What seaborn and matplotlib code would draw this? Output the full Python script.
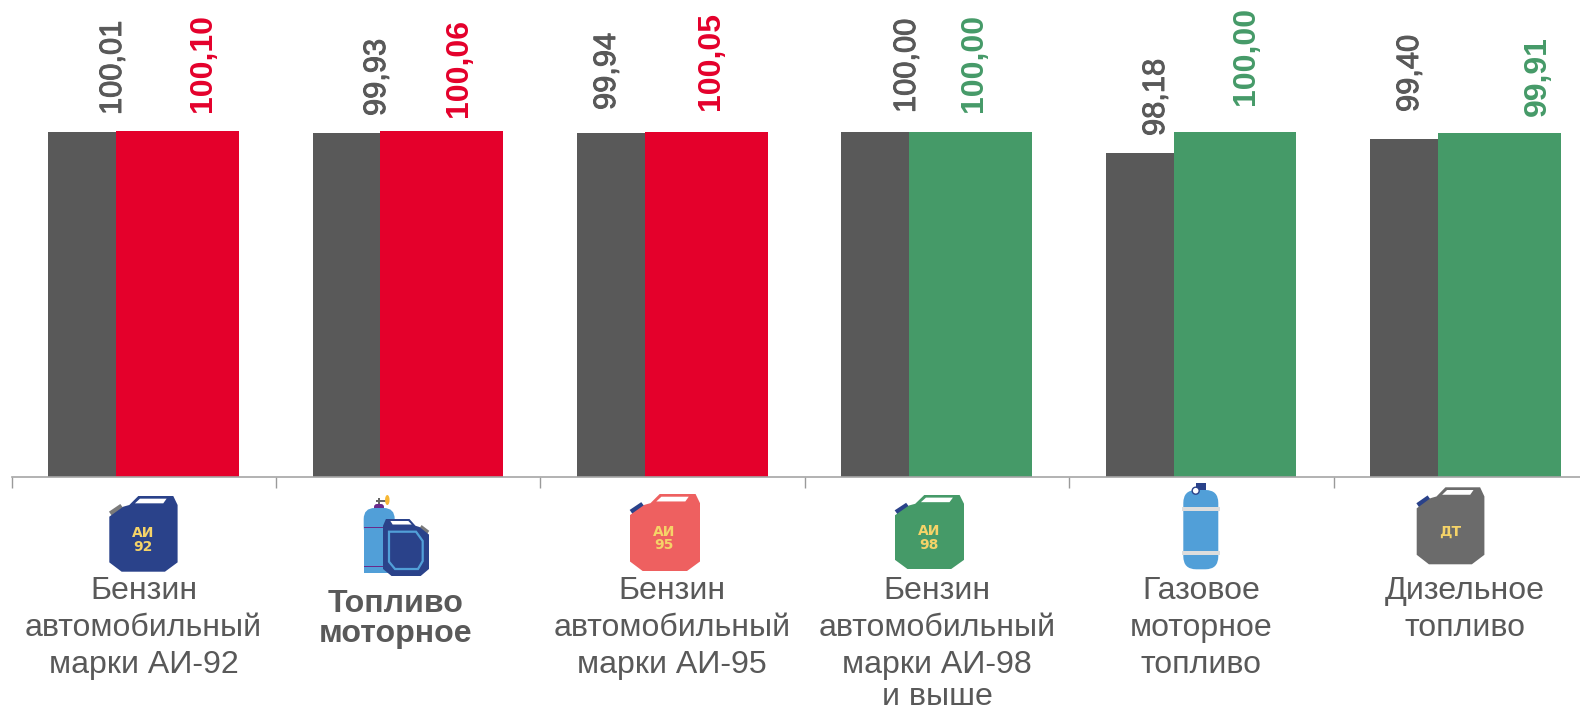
import matplotlib
matplotlib.use("Agg")
import matplotlib.patheffects as pe
import matplotlib.pyplot as plt
import numpy as np
import pandas as pd
import seaborn as sns
from matplotlib.patches import Circle, Ellipse, FancyBboxPatch, Polygon, Rectangle

# Data
categories = ["Бензин\nавтомобильный\nмарки АИ-92", "Топливо\nмоторное",
              "Бензин\nавтомобильный\nмарки АИ-95", "Бензин\nавтомобильный\nмарки АИ-98\nи выше",
              "Газовое\nмоторное\nтопливо", "Дизельное\nтопливо"]
prev_values = [100.01, 99.93, 99.94, 100.00, 98.18, 99.40]
curr_values = [100.10, 100.06, 100.05, 100.00, 100.00, 99.91]
curr_group = ["up", "up", "up", "flat", "flat", "flat"]

DARK = "#595959"
RED = "#E4002B"
GREEN = "#459A68"
NAVY = "#2A428A"
YELLOW = "#F5D368"
BLUE = "#519FD8"
W, H = 1580, 712

# Layout in pixels
prev_label_x = [113, 377, 607, 907, 1156, 1410]
prev_label_y = [115, 116, 110, 113, 136, 112]
curr_label_x = [203, 459, 711, 974, 1246, 1538]
curr_label_y = [112, 117, 110, 112, 105, 116]
cat_x = [143.5, 396, 672, 937, 1201, 1465]
cat_baseline = [599, 612.5, 599, 599, 599, 599]

sns.set_theme(style="white")
plt.rcParams["font.family"] = ["Liberation Sans", "DejaVu Sans"]

fig = plt.figure(figsize=(W / 100, H / 100), dpi=100)
spacing = 264.4
ax = fig.add_axes([11.6 / W, (H - 476.5) / H, 6 * spacing / W, 345.5 / H])

pos = np.arange(len(categories))
df_prev = pd.DataFrame({"x": pos - 0.2325, "y": prev_values})
df_curr = pd.DataFrame({"x": pos + 0.127, "y": curr_values, "group": curr_group})
# dark bars run slightly under the coloured ones so no white slit shows
sns.barplot(data=df_prev, x="x", y="y", native_scale=True, width=0.258, color=DARK,
            saturation=1, linewidth=0, ax=ax)
sns.barplot(data=df_curr, x="x", y="y", hue="group", native_scale=True, width=0.465,
            palette={"up": RED, "flat": GREEN}, saturation=1, dodge=False, legend=False,
            linewidth=0, ax=ax)

ax.set_xlim(-0.5, 5.5)
ax.set_ylim(70.4, 100.1)
ax.set_xlabel("")
ax.set_ylabel("")
ax.set_yticks([])
ax.set_xticks(np.arange(-0.5, 5.5, 1))
ax.set_xticklabels([])
ax.tick_params(axis="x", bottom=True, length=8, width=1, color="#9a9a9a")
sns.despine(ax=ax, left=True)
ax.spines["bottom"].set_color("#a6a6a6")
ax.spines["bottom"].set_linewidth(1.2)

# Overlay in pixel coordinates for labels and icons
ov = fig.add_axes([0, 0, 1, 1])
ov.set_xlim(0, W)
ov.set_ylim(H, 0)
ov.axis("off")
ov.patch.set_alpha(0)

for i in range(len(categories)):
    ov.text(prev_label_x[i], prev_label_y[i], f"{prev_values[i]:.2f}".replace(".", ","),
            rotation=90, ha="center", va="bottom", fontsize=22.2, color=DARK,
            path_effects=[pe.withStroke(linewidth=0.7, foreground=DARK)])
    ov.text(curr_label_x[i], curr_label_y[i], f"{curr_values[i]:.2f}".replace(".", ","),
            rotation=90, ha="center", va="bottom", fontsize=23, fontweight="bold",
            color=RED if curr_group[i] == "up" else GREEN)
    bold = i == 1
    step = 29.5 if bold else 37.2
    for j, line in enumerate(categories[i].split("\n")):
        # the last line of the longest label has to stay inside the canvas
        baseline = min(cat_baseline[i] + j * step, 705)
        ov.text(cat_x[i], baseline, line, ha="center", va="baseline",
                fontsize=23.1, color=DARK, fontweight="bold" if bold else "normal")

BODY = [(0, 62), (42, 32), (60, 27), (87, 0), (192, 0), (205, 27), (205, 199),
        (167, 227), (37, 227), (0, 199)]
HOLE = [(77, 22), (92, 8), (172, 8), (162, 22)]
SPOUT = [(-1, 47), (33, 24), (42, 36), (8, 60)]


def canister(left, top, width, height, color, spout, flip=False, text=None, z=3):
    def tr(points):
        out = []
        for px, py in points:
            if flip:
                px = 205 - px
            out.append((left + px * width / 205, top + py * height / 227))
        return out
    ov.add_patch(Polygon(tr(SPOUT), color=spout, lw=0, zorder=z))
    ov.add_patch(Polygon(tr(BODY), color=color, lw=0, zorder=z))
    ov.add_patch(Polygon(tr(HOLE), color="white", lw=0, zorder=z))
    if text:
        ov.text(left + width * 0.49, top + height * 0.58, text, ha="center", va="center",
                fontsize=10, color=YELLOW, fontweight="bold", family="DejaVu Sans",
                linespacing=0.95, zorder=z)


canister(109.3, 496, 68.3, 75.7, NAVY, "#7a7a7a", text="АИ\n92")
canister(630, 494, 70, 77, "#EE6060", NAVY, text="АИ\n95")
canister(895, 495, 69, 74, GREEN, NAVY, text="АИ\n98")
canister(1416.7, 487.3, 67.7, 77, "#6B6B6B", NAVY, text="ДТ")

# Combined fuel icon: cylinder behind a mirrored canister
ov.add_patch(Rectangle((378, 498), 2, 8, color="#666666", lw=0, zorder=2))
ov.add_patch(Rectangle((375.5, 499.5), 11, 2, color="#666666", lw=0, zorder=2))
ov.add_patch(Ellipse((387.3, 500), 4.5, 10, color="#F7B733", lw=0, zorder=2))
ov.add_patch(FancyBboxPatch((374, 504), 10, 8, boxstyle="round,pad=0,rounding_size=3",
                            color="#6A2A8A", lw=0, zorder=2))
ov.add_patch(FancyBboxPatch((363.7, 508), 31, 30, boxstyle="round,pad=0,rounding_size=11",
                            color=BLUE, lw=0, zorder=2))
ov.add_patch(Rectangle((363.7, 524), 31, 48.7, color=BLUE, lw=0, zorder=2.05))
ov.add_patch(Rectangle((363.7, 526.5), 22, 1.7, color="#6A2A8A", lw=0, zorder=2.2))
ov.add_patch(Rectangle((363.7, 565.5), 22, 1.7, color="#6A2A8A", lw=0, zorder=2.2))
canister(383, 519, 46, 57, NAVY, "#7a7a7a", flip=True)
ov.add_patch(Polygon([(389, 531.7), (416, 531.7), (422.7, 541), (422.7, 561), (418, 569),
                      (395, 569), (389, 561.7)], closed=True, fill=False, ec=BLUE, lw=1.6, zorder=4))

# Gas cylinder icon
ov.add_patch(Rectangle((1195.7, 482.7), 10.3, 8, color=NAVY, lw=0, zorder=2))
ov.add_patch(FancyBboxPatch((1183.3, 490), 35, 79.3, boxstyle="round,pad=0,rounding_size=13",
                            color=BLUE, lw=0, zorder=3))
for band_y in [506.5, 550.5]:
    ov.add_patch(Rectangle((1182, band_y), 38, 4, color="#DDDDDD", lw=0, zorder=4))
ov.add_patch(Circle((1195.7, 490.7), 3.5, fc="white", ec=NAVY, lw=1, zorder=4))

fig.savefig("out.png", dpi=100)
